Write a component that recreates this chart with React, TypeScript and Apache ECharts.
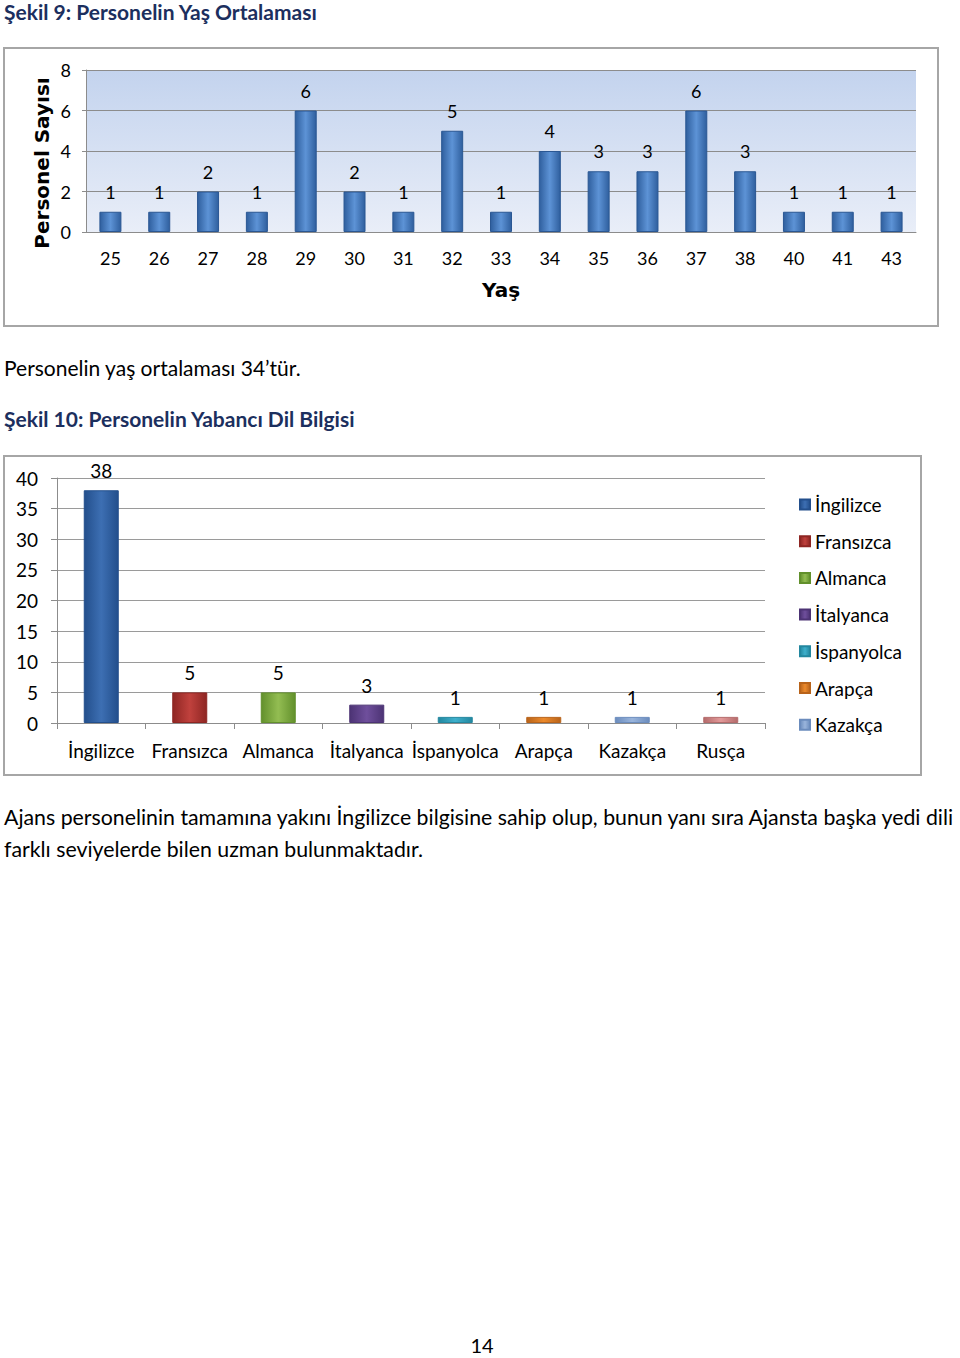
import React, { useEffect, useRef } from "react";
import * as echarts from "echarts";

const ageCategories = ["25", "26", "27", "28", "29", "30", "31", "32", "33", "34", "35", "36", "37", "38", "40", "41", "43"];
const ageCounts = [1, 1, 2, 1, 6, 2, 1, 5, 1, 4, 3, 3, 6, 3, 1, 1, 1];
const ageAxisMax = 8;
const ageAxisStep = 2;

const languages = ["İngilizce", "Fransızca", "Almanca", "İtalyanca", "İspanyolca", "Arapça", "Kazakça", "Rusça"];
const languageCounts = [38, 5, 5, 3, 1, 1, 1, 1];
const languageColors = ["#3d6fb3", "#c0413d", "#93bd52", "#6f4f9c", "#3fb0cc", "#ec8a2c", "#9ab5dc", "#e39a9a"];
const languageEdge = ["#234f8c", "#8e2623", "#62902c", "#4c3374", "#23879f", "#b8631a", "#6b8cbd", "#b46b6b"];
const legendLanguages = languages.slice(0, 7);
const langAxisMax = 40;
const langAxisStep = 5;

const FONT = "Lato";
const NAVY = "#1c2f5e";

function hGrad(edge: string, mid: string) {
  return new echarts.graphic.LinearGradient(0, 0, 1, 0, [
    { offset: 0, color: edge },
    { offset: 0.5, color: mid },
    { offset: 1, color: edge },
  ]);
}

export default function App() {
  const ref = useRef<HTMLDivElement>(null);
  useEffect(() => {
    if (!ref.current) return;
    const chart = echarts.init(ref.current, null, { renderer: "svg" });

    const langSeries = languages.map((name, i) => ({
      name,
      type: "bar",
      stack: "lang",
      xAxisIndex: 1,
      yAxisIndex: 1,
      barWidth: 35,
      data: languageCounts.map((v, j) => (j === i ? v : null)),
      itemStyle: {
        color: hGrad(languageEdge[i], languageColors[i]),
        borderColor: languageEdge[i],
        borderWidth: 1,
      },
      label: {
        show: true,
        position: "top",
        distance: 10,
        fontFamily: FONT,
        fontSize: 19,
        color: "#000",
      },
    }));

    const text = (x: number, y: number, t: string, size: number, opts: any = {}) => ({
      type: "text",
      x,
      y,
      silent: true,
      style: {
        text: t,
        fontFamily: FONT,
        fontSize: size,
        fill: "#000",
        verticalAlign: "middle",
        align: "left",
        ...opts,
      },
    });

    chart.setOption({
      animation: false,
      backgroundColor: "#fff",
      graphic: [
        {
          type: "rect",
          shape: { x: 4, y: 48, width: 934, height: 278 },
          style: { fill: "#fff", stroke: "#a6a6a6", lineWidth: 2 },
          z: -10,
        },
        {
          type: "rect",
          shape: { x: 4, y: 456, width: 917, height: 319 },
          style: { fill: "#fff", stroke: "#a6a6a6", lineWidth: 2 },
          z: -10,
        },
        text(4, 11, "Şekil 9: Personelin Yaş Ortalaması", 21, { fontWeight: "bold", fill: NAVY }),
        text(4, 367, "Personelin yaş ortalaması 34’tür.", 21),
        text(4, 418, "Şekil 10: Personelin Yabancı Dil Bilgisi", 21, { fontWeight: "bold", fill: NAVY }),
        text(4, 817, "Ajans personelinin tamamına yakını İngilizce bilgisine sahip olup, bunun yanı sıra Ajansta başka yedi dili", 21.3),
        text(4, 849, "farklı seviyelerde bilen uzman bulunmaktadır.", 21.3),
        text(482, 1345, "14", 20, { align: "center" }),
        {
          type: "text",
          x: 42,
          y: 163,
          rotation: Math.PI / 2,
          silent: true,
          style: {
            text: "Personel Sayısı",
            fontFamily: "DejaVu Sans",
            fontWeight: "bold",
            fontSize: 20,
            fill: "#000",
            align: "center",
            verticalAlign: "middle",
          },
        },
      ],
      grid: [
        {
          left: 86,
          top: 70,
          width: 830,
          height: 162,
          show: true,
          borderWidth: 0,
          backgroundColor: new echarts.graphic.LinearGradient(0, 0, 0, 1, [
            { offset: 0, color: "#c3d3ee" },
            { offset: 1, color: "#e9eef8" },
          ]),
        },
        { left: 57, top: 478, width: 708, height: 245 },
      ],
      xAxis: [
        {
          type: "category",
          gridIndex: 0,
          data: ageCategories,
          name: "Yaş",
          nameLocation: "middle",
          nameGap: 48,
          nameTextStyle: { fontFamily: "DejaVu Sans", fontWeight: "bold", fontSize: 20, color: "#000" },
          axisLine: { lineStyle: { color: "#8c8c8c", width: 1 } },
          axisTick: { show: false },
          axisLabel: { fontFamily: FONT, fontSize: 18, color: "#000", margin: 17 },
        },
        {
          type: "category",
          gridIndex: 1,
          data: languages,
          axisLine: { lineStyle: { color: "#8c8c8c", width: 1 } },
          axisTick: { show: true, length: 6, lineStyle: { color: "#8c8c8c" } },
          axisLabel: { fontFamily: FONT, fontSize: 19, color: "#000", margin: 18, interval: 0 },
        },
      ],
      yAxis: [
        {
          type: "value",
          gridIndex: 0,
          min: 0,
          max: ageAxisMax,
          interval: ageAxisStep,
          axisLine: { show: true, lineStyle: { color: "#8c8c8c" } },
          axisTick: { show: true, length: 4, lineStyle: { color: "#8c8c8c" } },
          splitLine: { lineStyle: { color: "#8c8c8c", width: 1 } },
          axisLabel: { fontFamily: FONT, fontSize: 18, color: "#000", margin: 15 },
        },
        {
          type: "value",
          gridIndex: 1,
          min: 0,
          max: langAxisMax,
          interval: langAxisStep,
          axisLine: { show: true, lineStyle: { color: "#8c8c8c" } },
          axisTick: { show: true, length: 6, lineStyle: { color: "#8c8c8c" } },
          splitLine: { lineStyle: { color: "#9a9a9a", width: 1 } },
          axisLabel: { fontFamily: FONT, fontSize: 19, color: "#000", margin: 19 },
        },
      ],
      legend: {
        data: legendLanguages,
        orient: "vertical",
        left: 794,
        top: 489,
        itemWidth: 10,
        itemHeight: 10,
        itemGap: 15.7,
        icon: "rect",
        textStyle: { fontFamily: FONT, fontSize: 19, color: "#000", lineHeight: 21 },
        selectedMode: false,
      },
      series: [
        {
          name: "Personel Sayısı",
          type: "bar",
          xAxisIndex: 0,
          yAxisIndex: 0,
          barWidth: 22,
          data: ageCounts,
          itemStyle: {
            color: hGrad("#2f5f9e", "#5d93d6"),
            borderColor: "#2a5793",
            borderWidth: 1,
          },
          label: {
            show: true,
            position: "top",
            distance: 11,
            fontFamily: FONT,
            fontSize: 18,
            color: "#000",
          },
        },
        ...langSeries,
      ],
    });
    return () => chart.dispose();
  }, []);
  return (
    <div
      ref={ref}
      style={{ position: "absolute", left: 0, top: 0, width: 960, height: 1358 }}
    />
  );
}
